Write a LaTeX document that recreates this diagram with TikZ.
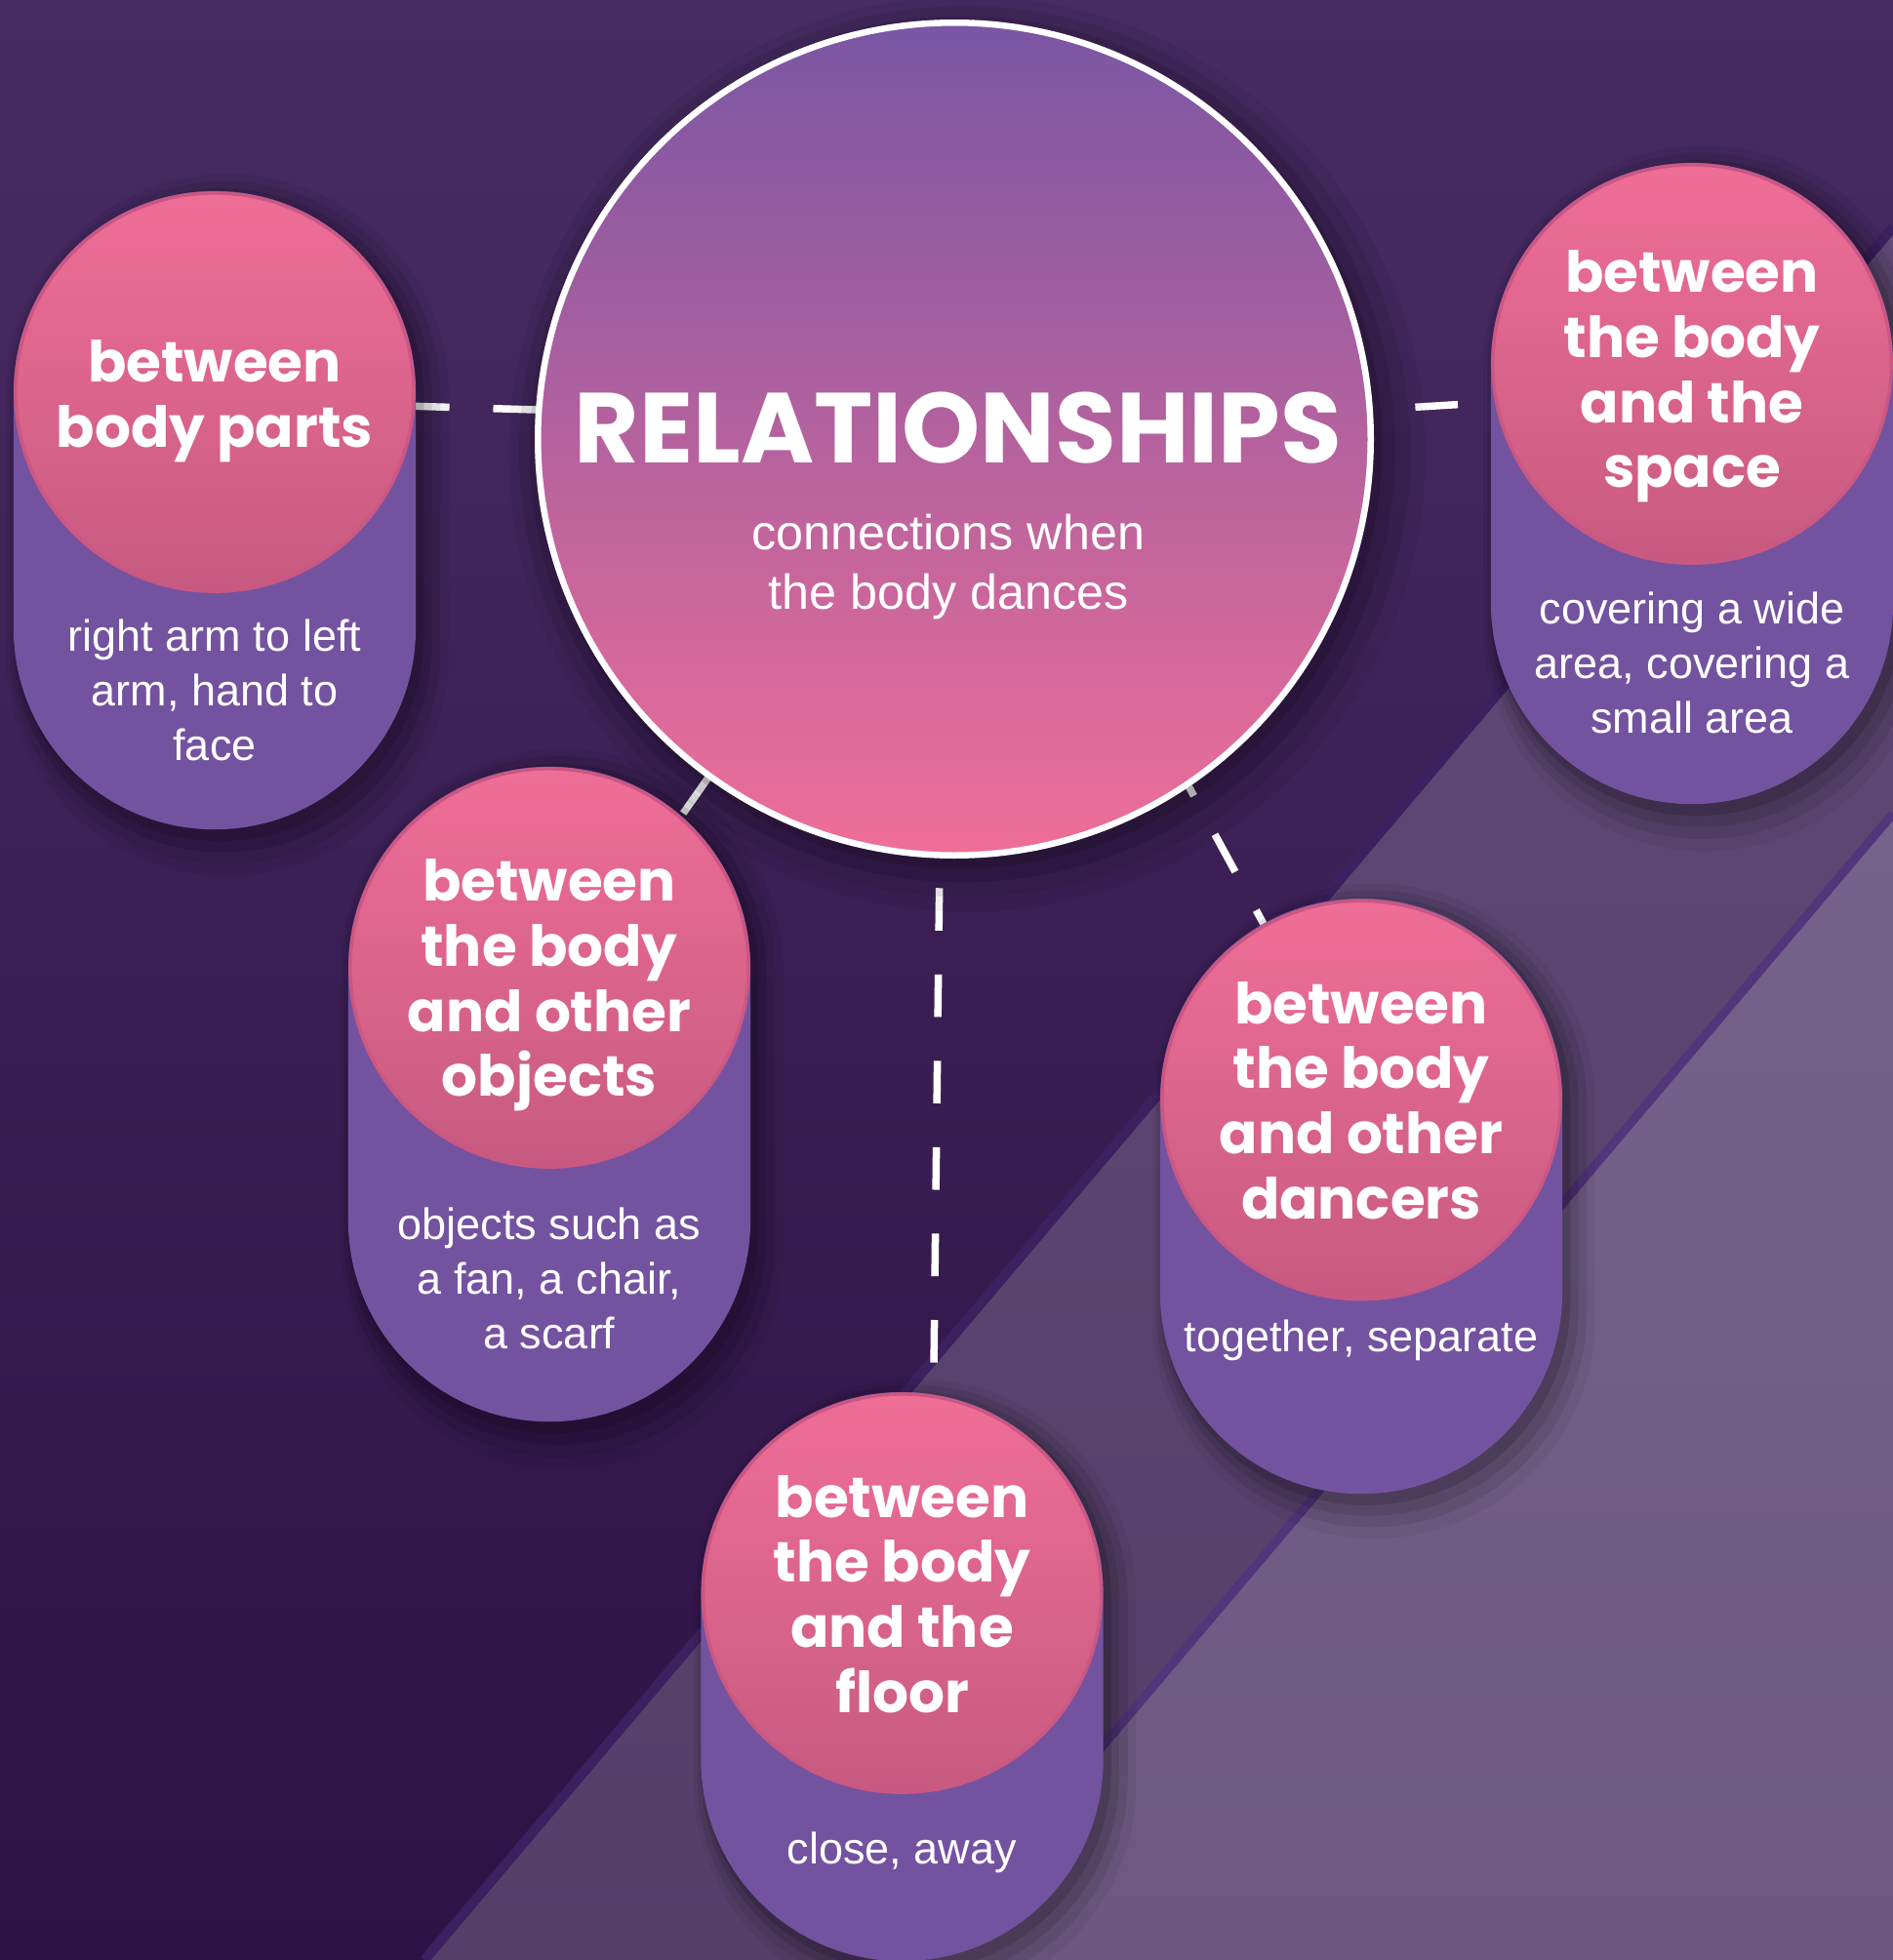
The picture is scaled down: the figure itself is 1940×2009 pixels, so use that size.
\documentclass[tikz,border=0pt]{standalone}
\usepackage{fontspec}
\setmainfont{Liberation Sans}
\newfontfamily\roundfont{Poppins}
\usetikzlibrary{shadings,shadows}

\definecolor{bgtop}{HTML}{472B62}
\definecolor{bgbottom}{HTML}{2E1245}
\definecolor{bandonetop}{HTML}{614B77}
\definecolor{bandonebottom}{HTML}{553F69}
\definecolor{bandtwotop}{HTML}{75638B}
\definecolor{bandtwobottom}{HTML}{6C5880}
\definecolor{edgeone}{HTML}{3D2060}
\definecolor{edgetwo}{HTML}{52357A}
\definecolor{capsulepurple}{HTML}{7353A0}
\definecolor{pinktop}{HTML}{EF6E98}
\definecolor{pinkbottom}{HTML}{C75A80}
\definecolor{pinkedge}{HTML}{CB5783}
\definecolor{relpurple}{HTML}{7A56A4}

\pgfdeclarelayer{back}
\pgfdeclarelayer{links}
\pgfsetlayers{back,links,main}

\begin{document}
\begin{tikzpicture}[x=0.01cm, y=-0.01cm,
  softshadow/.style = {
    general shadow={fill=black, opacity=0.13, shadow scale=1.015,
      shadow xshift=0.05cm, shadow yshift=-0.07cm},
    general shadow={fill=black, opacity=0.10, shadow scale=1.04,
      shadow xshift=0.08cm, shadow yshift=-0.1cm},
    general shadow={fill=black, opacity=0.08, shadow scale=1.07,
      shadow xshift=0.1cm, shadow yshift=-0.12cm},
    general shadow={fill=black, opacity=0.05, shadow scale=1.1,
      shadow xshift=0.12cm, shadow yshift=-0.14cm}},
  bubble/.style = {circle, minimum size=4.08cm, inner sep=0pt,
    draw=pinkedge, line width=0.035cm, top color=pinktop, bottom color=pinkbottom},
  bubbletext/.style = {align=center, text=white,
    font=\roundfont\bfseries\fontsize{16.5}{19}\selectfont},
  capsule/.style = {rectangle, rounded corners=2.06cm, minimum width=4.12cm,
    inner sep=0pt, fill=capsulepurple, softshadow},
  note/.style = {align=center, text=white, font=\fontsize{12.8}{15.9}\selectfont},
  link/.style = {white, line width=0.075cm, dash pattern=on 0.436cm off 0.449cm}]

  \useasboundingbox (0,0) rectangle (1940,2009);

  % backdrop with the two diagonal bands
  \begin{pgfonlayer}{back}
    \shade[top color=bgtop, bottom color=bgbottom] (0,0) rectangle (1940,2009);
    \shade[top color=bandonetop, bottom color=bandonebottom]
      (435,2009) -- (1940,233) -- (1940,2009) -- cycle;
    \shade[top color=bandtwotop, bottom color=bandtwobottom]
      (944,2009) -- (1940,834) -- (1940,2009) -- cycle;
    \draw[edgeone, line width=0.1cm] (435,2009) -- (1940,233);
    \draw[edgetwo, line width=0.09cm] (944,2009) -- (1940,834);
  \end{pgfonlayer}

  % central circle
  \node[circle, minimum size=8.53cm, draw=white, line width=0.065cm,
    top color=relpurple, bottom color=pinktop, softshadow] (rel) at (978,450) {};
  \node[text=white, font=\roundfont\bfseries\fontsize{29}{30}\selectfont]
    (title) at (982,439) {RELATIONSHIPS};
  \node[note, font=\fontsize{14.3}{17.4}\selectfont] (sub) at (972,581)
    {connections when\\the body dances};

  % the five kinds of relationship
  \node[capsule, minimum height=6.54cm] (bp-cap) at (220,523) {};
  \node[bubble] (bp) at (220,402) {};
  \node[bubbletext] (bp-text) at (220,411) {between\\body parts};
  \node[note] (bp-note) at (220,707) {right arm to left\\arm, hand to\\face};

  \node[capsule, minimum height=6.57cm] (space-cap) at (1734,495.5) {};
  \node[bubble] (space) at (1734,373) {};
  \node[bubbletext] (space-text) at (1734,386) {between\\the body\\and the\\space};
  \node[note] (space-note) at (1734,679) {covering a wide\\area, covering a\\small area};

  \node[capsule, minimum height=6.71cm] (obj-cap) at (563,1121.5) {};
  \node[bubble] (obj) at (563,992) {};
  \node[bubbletext] (obj-text) at (563,1010) {between\\the body\\and other\\objects};
  \node[note] (obj-note) at (563,1310) {objects such as\\a fan, a chair,\\a scarf};

  \node[capsule, minimum height=6.10cm] (dancers-cap) at (1395,1226) {};
  \node[bubble] (dancers) at (1395,1127.5) {};
  \node[bubbletext] (dancers-text) at (1395,1128) {between\\the body\\and other\\dancers};
  \node[note] (dancers-note) at (1395,1374) {together, separate};

  \node[capsule, minimum height=5.83cm] (floor-cap) at (924.5,1718.5) {};
  \node[bubble] (floor) at (924.5,1633) {};
  \node[bubbletext] (floor-text) at (924.5,1634) {between\\the body\\and the\\floor};
  \node[note] (floor-note) at (924.5,1899) {close, away};

  % dashed links, kept behind the circles
  \begin{pgfonlayer}{links}
    \draw[link] (rel.176) -- (bp.-4);
    \draw[link, dash phase=0.45cm] (rel.4) -- (space.191);
    \draw[link] (rel.234) -- (obj.49);
    \draw[link, dash phase=0.33cm] (rel.304) -- (dancers.119);
    \draw[link, dash phase=0.58cm] (rel.268) -- (floor.81);
  \end{pgfonlayer}
\end{tikzpicture}
\end{document}
